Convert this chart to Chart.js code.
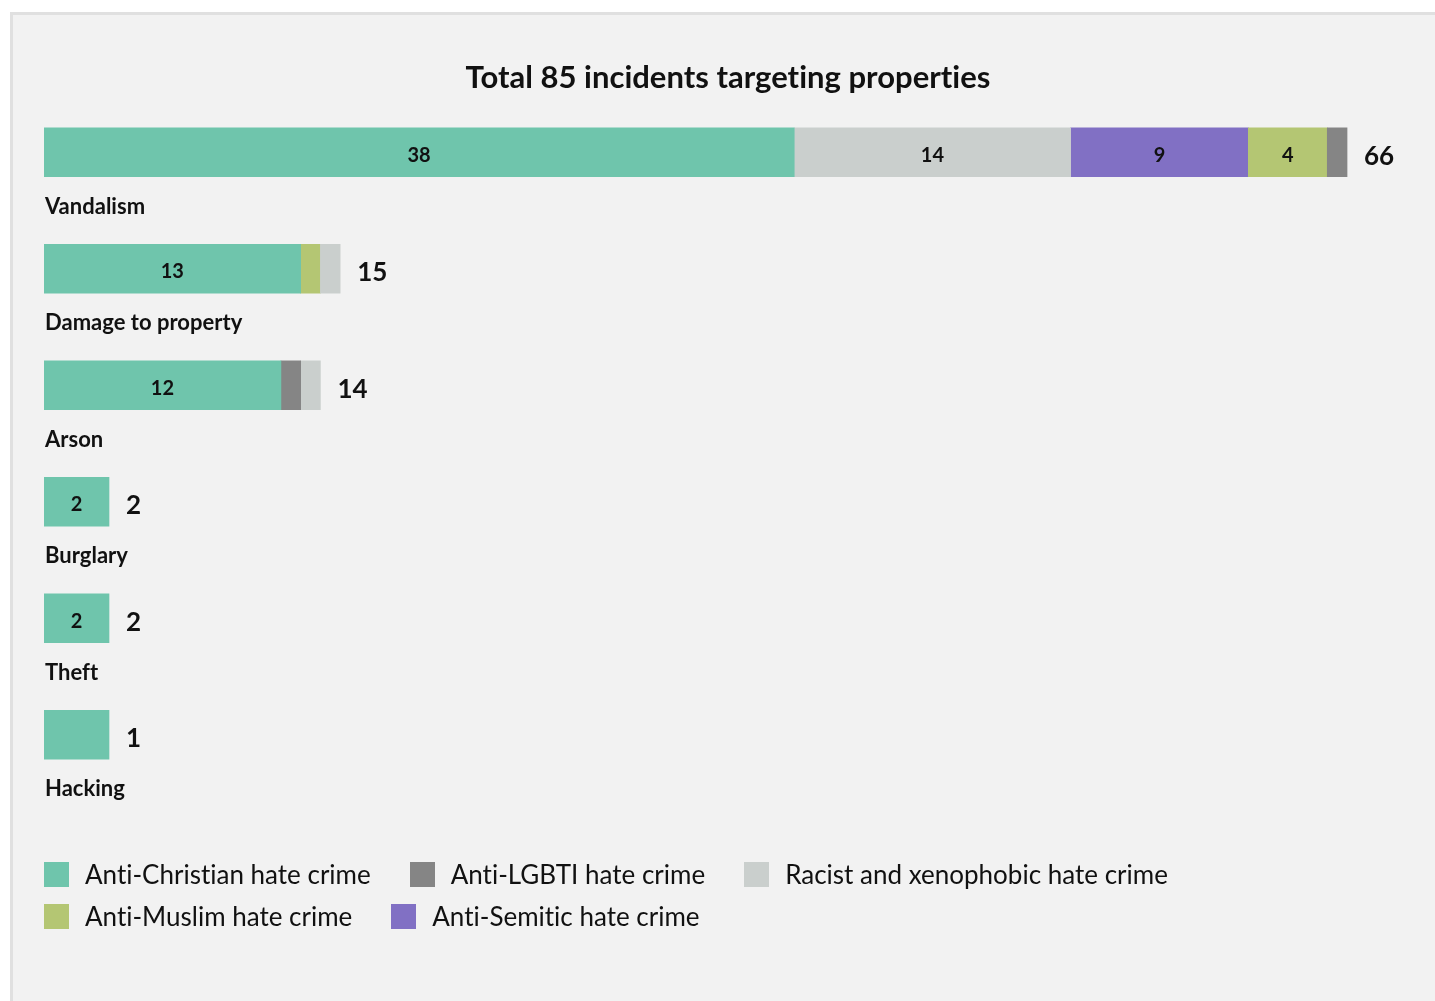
<!DOCTYPE html>
<html><head><meta charset="utf-8">
<script src="https://cdn.jsdelivr.net/npm/chart.js@4.4.1/dist/chart.umd.min.js"></script>
<style>
html,body{margin:0;padding:0;background:#fff;width:1435px;height:1001px;overflow:hidden;font-family:Lato,sans-serif;font-variant-ligatures:none;}
#panel{position:absolute;left:10px;top:12px;width:1500px;height:1100px;background:#f2f2f2;border:3px solid #e0e0e0;box-sizing:border-box;}
#wrap{position:absolute;left:0;top:0;width:1435px;height:1001px;}
canvas{font-variant-ligatures:none;}
#legend{position:absolute;left:44px;top:853px;width:1385px;display:flex;flex-wrap:wrap;}
.item{display:flex;align-items:center;height:42px;margin-right:39px;font-size:26px;color:#111;white-space:nowrap;font-variant-ligatures:none;}
.box{width:25px;height:25px;margin-right:16px;flex:none;}
</style></head>
<body>
<div id="panel"></div>
<div id="wrap"><canvas id="c" width="1435" height="1001"></canvas></div>
<div id="legend"></div>
<script>
const titleText = 'Total 85 incidents targeting properties';
const categories = ['Vandalism', 'Damage to property', 'Arson', 'Burglary', 'Theft', 'Hacking'];
const seriesNames = ['Anti-Christian hate crime', 'Anti-LGBTI hate crime', 'Racist and xenophobic hate crime', 'Anti-Muslim hate crime', 'Anti-Semitic hate crime'];
const antiChristian = [38, 13, 12, 2, 2, 1];
const antiLGBTI = [1, 0, 1, 0, 0, 0];
const racistXenophobic = [14, 1, 1, 0, 0, 0];
const antiMuslim = [4, 1, 0, 0, 0, 0];
const antiSemitic = [9, 0, 0, 0, 0, 0];
const seriesColors = ['#6fc5ac', '#858585', '#cacfcd', '#b4c673', '#8170c4'];

const seriesValues = [antiChristian, antiLGBTI, racistXenophobic, antiMuslim, antiSemitic];
const totals = categories.map((_, i) => seriesValues.reduce((s, arr) => s + arr[i], 0));

// Within each row, segments are ordered by value (desc), ties alphabetically
const ranges = seriesValues.map(() => categories.map(() => null));
categories.forEach((_, i) => {
  const order = seriesValues.map((arr, s) => s).filter(s => seriesValues[s][i] > 0)
    .sort((a, b) => (seriesValues[b][i] - seriesValues[a][i]) || seriesNames[a].localeCompare(seriesNames[b]));
  let start = 0;
  order.forEach(s => { const v = seriesValues[s][i]; ranges[s][i] = [start, start + v]; start += v; });
});

// HTML legend
const leg = document.getElementById('legend');
seriesNames.forEach((n, s) => {
  const it = document.createElement('div'); it.className = 'item';
  const b = document.createElement('span'); b.className = 'box'; b.style.background = seriesColors[s];
  const t = document.createElement('span'); t.textContent = n;
  it.appendChild(b); it.appendChild(t); leg.appendChild(it);
});

const MIN_BAR_PX = 65;
const FONT = 'Lato, sans-serif';

const labelPlugin = {
  id: 'labels',
  beforeDatasetsDraw(chart) {
    categories.forEach((_, i) => {
      const els = [];
      chart.data.datasets.forEach((ds, d) => {
        const el = chart.getDatasetMeta(d).data[i];
        if (el && ds.data[i]) els.push(el);
      });
      if (els.length === 1) {
        const el = els[0];
        if (el.x - el.base < MIN_BAR_PX) el.x = el.base + MIN_BAR_PX;
      }
    });
  },
  afterDatasetsDraw(chart) {
    const ctx = chart.ctx;
    ctx.save();
    if ('letterSpacing' in ctx) ctx.letterSpacing = '0.01px';
    ctx.fillStyle = '#111';
    ctx.textBaseline = 'middle';
    categories.forEach((cat, i) => {
      let end = 0, cy = 0, h = 0;
      chart.data.datasets.forEach((ds, d) => {
        const el = chart.getDatasetMeta(d).data[i];
        if (!el || !ds.data[i]) return;
        end = Math.max(end, el.x); cy = el.y; h = el.height;
        const v = ds.data[i][1] - ds.data[i][0];
        if (v >= 2) {
          ctx.font = 'bold 20px ' + FONT;
          ctx.textAlign = 'center';
          ctx.fillText(String(v), (el.x + el.base) / 2, cy + 3);
        }
      });
      ctx.font = 'bold 26px ' + FONT;
      ctx.textAlign = 'left';
      ctx.fillText(String(totals[i]), end + 17, cy + 4);
      ctx.font = 'bold 22px ' + FONT;
      ctx.fillText(cat, 45, cy + h / 2 + 30);
    });
    ctx.font = 'bold 31px ' + FONT;
    ctx.textAlign = 'center';
    ctx.fillText(titleText, 728, 78);
    ctx.restore();
  }
};

new Chart(document.getElementById('c'), {
  type: 'bar',
  data: {
    labels: categories,
    datasets: seriesNames.map((n, s) => ({
      label: n,
      data: ranges[s],
      backgroundColor: seriesColors[s],
      borderWidth: 0,
      borderSkipped: false,
      grouped: false,
      barThickness: 49
    }))
  },
  options: {
    indexAxis: 'y',
    responsive: false,
    animation: false,
    layout: { padding: { left: 44, right: 9, top: 94, bottom: 208 } },
    scales: {
      x: { display: false, min: 0, max: 70 },
      y: { display: false }
    },
    plugins: { legend: { display: false }, tooltip: { enabled: false }, title: { display: false } }
  },
  plugins: [labelPlugin]
});
</script>
</body></html>
